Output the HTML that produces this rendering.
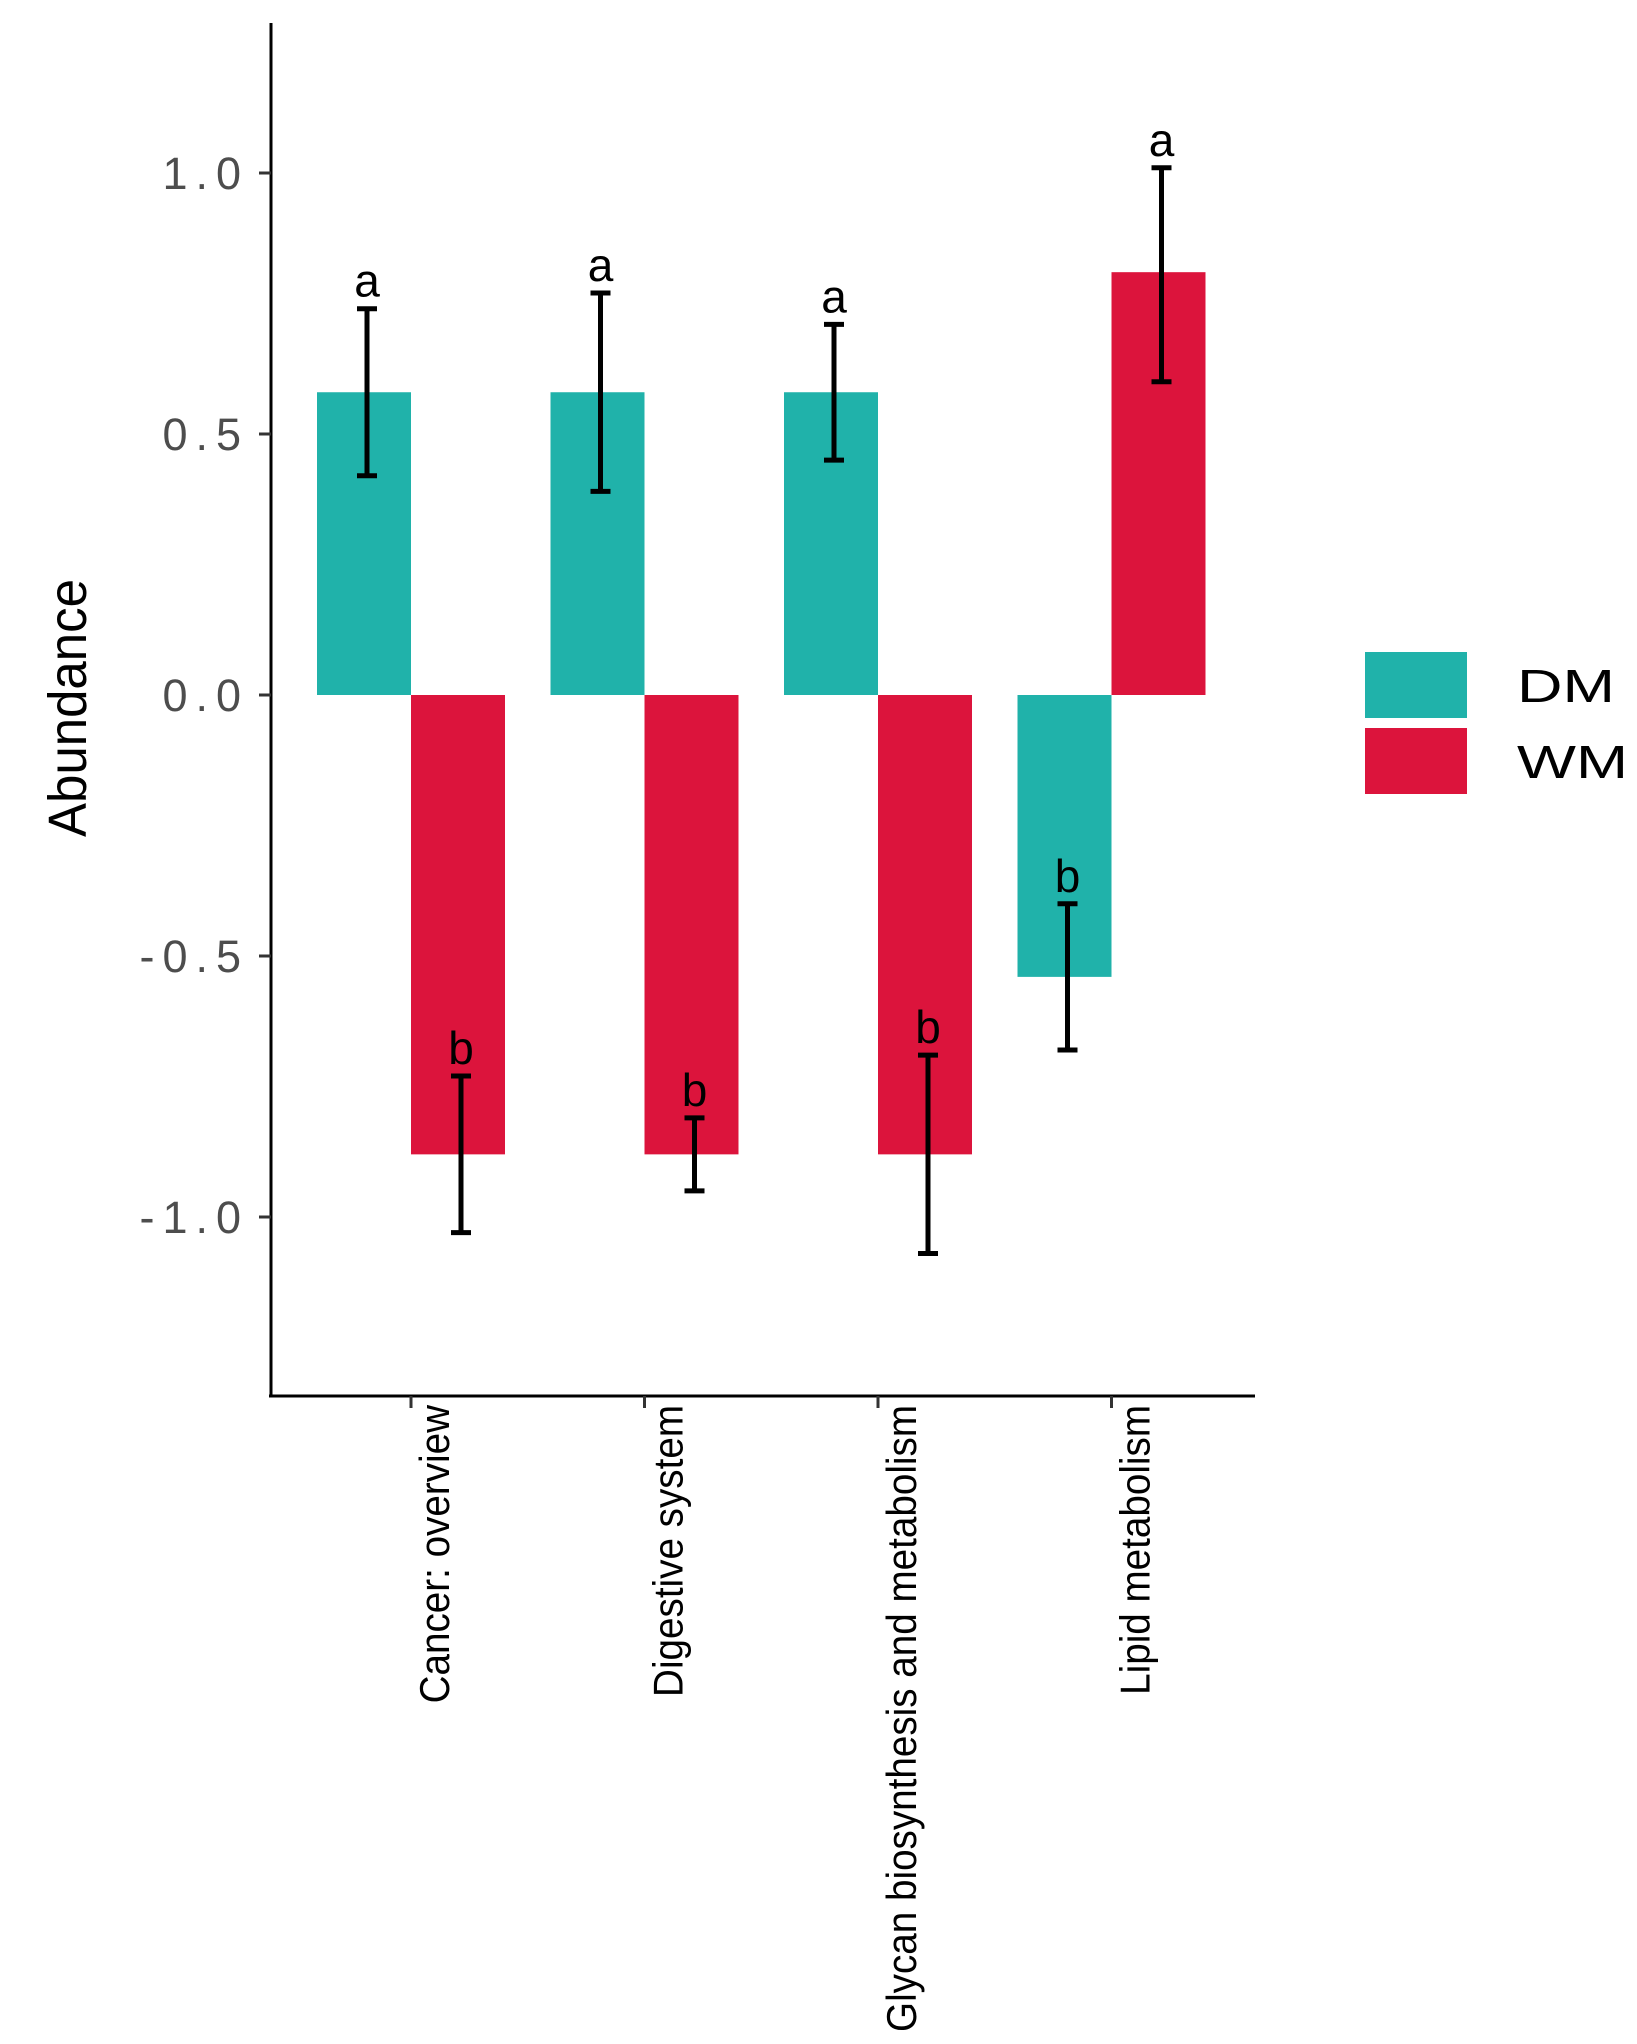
<!DOCTYPE html>
<html><head><meta charset="utf-8"><style>
html,body{margin:0;padding:0;background:#fff}
svg{display:block}
text{font-family:"Liberation Sans",sans-serif}
</style></head><body>
<svg id="chart" width="1637" height="2044" xmlns="http://www.w3.org/2000/svg"></svg>
<script>
const categories=["Cancer: overview","Digestive system","Glycan biosynthesis and metabolism","Lipid metabolism"];
const dmValues=[0.58,0.58,0.58,-0.54];
const wmValues=[-0.88,-0.88,-0.88,0.81];
const dmLow=[0.42,0.39,0.45,-0.68];
const dmHigh=[0.74,0.77,0.71,-0.40];
const wmLow=[-1.03,-0.95,-1.07,0.60];
const wmHigh=[-0.73,-0.81,-0.69,1.01];
const dmLetters=["a","a","a","b"];
const wmLetters=["b","b","b","a"];
const yTicks=[1.0,0.5,0.0,-0.5,-1.0];
const yTickLabels=["1.0","0.5","0.0","-0.5","-1.0"];

const svg=document.getElementById('chart');
const NS="http://www.w3.org/2000/svg";
const y0=695, unit=522;
function yS(v){return y0-v*unit;}
const xStart=411, xStep=233.5, bw=94;
function xS(i){return xStart+i*xStep;}
function mk(tag,attrs,parent){const e=document.createElementNS(NS,tag);for(const k in attrs)e.setAttribute(k,attrs[k]);(parent||svg).appendChild(e);return e;}

let ax=mk('line',{x1:271,y1:23,x2:271,y2:1397,stroke:'#000','stroke-width':3});


ax=mk('line',{x1:269,y1:1396,x2:1255,y2:1396,stroke:'#000','stroke-width':3});



yTicks.forEach((v,i)=>{
  const t=mk('line',{x1:259,y1:yS(v),x2:271,y2:yS(v),stroke:'#333','stroke-width':3});
  
  
  const l=mk('text',{x:249,y:yS(v)+16,'text-anchor':'end','font-size':45,fill:'#4d4d4d','letter-spacing':8});
  l.textContent=yTickLabels[i];
  
  
});
const yt=mk('text',{x:0,y:0,transform:'translate(86,708) rotate(-90)','text-anchor':'middle','font-size':54,fill:'#000','textLength':258,'lengthAdjust':'spacingAndGlyphs'});
yt.textContent="Abundance";



function bar(x,v,color,name){
  const top=Math.min(yS(v),yS(0)),h=Math.abs(yS(v)-yS(0));
  const r=mk('rect',{x:x,y:top,width:bw,height:h,fill:color});
  
  
}
function err(cx,lo,hi,name){
  const g=mk('g',{stroke:'#000','stroke-width':5});
  
  
  mk('line',{x1:cx,y1:yS(lo),x2:cx,y2:yS(hi)},g);
  mk('line',{x1:cx-10,y1:yS(lo),x2:cx+10,y2:yS(lo)},g);
  mk('line',{x1:cx-10,y1:yS(hi),x2:cx+10,y2:yS(hi)},g);
}
function letter(cx,hi,s){
  const t=mk('text',{x:cx,y:yS(hi)-12,'text-anchor':'middle','font-size':46,fill:'#000'});
  t.textContent=s;
  
  
}
categories.forEach((c,i)=>{
  const cx=xS(i);
  bar(cx-bw,dmValues[i],'#20B2AA','bar-dm');
  bar(cx,wmValues[i],'#DC143C','bar-wm');
  err(cx-bw/2+3,dmLow[i],dmHigh[i],'error-bar-dm');
  err(cx+bw/2+3,wmLow[i],wmHigh[i],'error-bar-wm');
  letter(cx-bw/2+3,dmHigh[i],dmLetters[i]);
  letter(cx+bw/2+3,wmHigh[i],wmLetters[i]);
  const tk=mk('line',{x1:cx,y1:1396,x2:cx,y2:1408,stroke:'#333','stroke-width':3});
  
  
  const l=mk('text',{x:0,y:0,transform:`translate(${cx+38},1405) rotate(-90) scale(0.92,1)`,'text-anchor':'end','font-size':42,fill:'#000'});
  l.textContent=c;
  
  
});
[['DM','#20B2AA',652,98],['WM','#DC143C',728,111]].forEach(([n,col,y,tl])=>{
  const r=mk('rect',{x:1365,y:y,width:102,height:66,fill:col});
  
  
  const t=mk('text',{x:1517,y:y+50,'font-size':46,fill:'#000',textLength:tl,lengthAdjust:'spacingAndGlyphs'});
  t.textContent=n;
  
  
});
</script>
</body></html>
